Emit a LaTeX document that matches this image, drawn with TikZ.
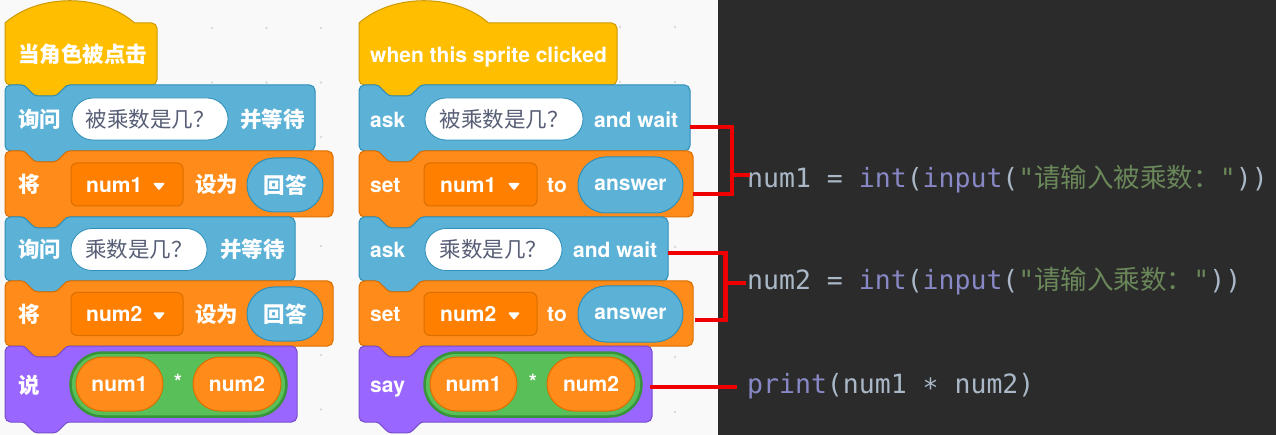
\documentclass[tikz,border=0pt]{standalone}
\usepackage{fontspec}
\newfontfamily\latf{TeX Gyre Heros}
\newfontfamily\cjkf{Noto Sans CJK SC}
\newfontfamily\monof{DejaVu Sans Mono}
\definecolor{bgl}{HTML}{F9F9F9}
\definecolor{bgd}{HTML}{2B2B2B}
\definecolor{hatc}{HTML}{FFBF00}
\definecolor{hatd}{HTML}{CC9900}
\definecolor{sens}{HTML}{5CB1D6}
\definecolor{sensd}{HTML}{2E8EB8}
\definecolor{varc}{HTML}{FF8C1A}
\definecolor{vard}{HTML}{DB6E00}
\definecolor{vars}{HTML}{FF8000}
\definecolor{looks}{HTML}{9966FF}
\definecolor{looksd}{HTML}{774DCB}
\definecolor{opc}{HTML}{59C059}
\definecolor{opd}{HTML}{389438}
\definecolor{inptxt}{HTML}{575E75}
\definecolor{cfg}{HTML}{A9B7C6}
\definecolor{cfn}{HTML}{8888C6}
\definecolor{cstr}{HTML}{6A8759}
\definecolor{redc}{HTML}{EE0000}
\definecolor{dotc}{HTML}{DADADA}
\newcommand\scrL{\latf\bfseries\fontsize{21}{24}\selectfont}
\newcommand\scrC{\cjkf\bfseries\fontsize{21.5}{24}\selectfont}
\newcommand\scrI{\cjkf\fontsize{21.5}{24}\selectfont}
\newcommand\codeM{\monof\fontsize{26.5}{30}\selectfont}
% stack block: x y w h fill draw
\newcommand\sblk[6]{%
\begin{scope}[shift={(#1,#2)}]
\filldraw[fill=#5,draw=#6,line width=1pt] (0,5.4) arc[start angle=180,end angle=270,radius=5.4]
 -- (16.2,0) .. controls (18.9,0) and (20.25,1.35) .. (21.6,2.7) -- (27,8.1)
 .. controls (28.35,9.45) and (29.7,10.8) .. (32.4,10.8) -- (48.6,10.8)
 .. controls (51.3,10.8) and (52.65,9.45) .. (54,8.1) -- (59.4,2.7)
 .. controls (60.75,1.35) and (62.1,0) .. (64.8,0)
 -- (#3-5.4,0) arc[start angle=270,end angle=360,radius=5.4]
 -- (#3,#4-5.4) arc[start angle=0,end angle=90,radius=5.4]
 -- (64.8,#4) .. controls (62.1,#4) and (60.75,#4+1.35) .. (59.4,#4+2.7) -- (54,#4+8.1)
 .. controls (52.65,#4+9.45) and (51.3,#4+10.8) .. (48.6,#4+10.8) -- (32.4,#4+10.8)
 .. controls (29.7,#4+10.8) and (28.35,#4+9.45) .. (27,#4+8.1) -- (21.6,#4+2.7)
 .. controls (20.25,#4+1.35) and (18.9,#4) .. (16.2,#4)
 -- (5.4,#4) arc[start angle=90,end angle=180,radius=5.4] -- cycle;
\end{scope}}
% hat block: x ytop w h fill draw
\newcommand\hblk[6]{%
\begin{scope}[shift={(#1,#2)}]
\filldraw[fill=#5,draw=#6,line width=1pt] (0,0) .. controls (33.75,-29.7) and (95.85,-29.7) .. (129.6,0)
 -- (#3-5.4,0) arc[start angle=270,end angle=360,radius=5.4]
 -- (#3,#4-5.4) arc[start angle=0,end angle=90,radius=5.4]
 -- (64.8,#4) .. controls (62.1,#4) and (60.75,#4+1.35) .. (59.4,#4+2.7) -- (54,#4+8.1)
 .. controls (52.65,#4+9.45) and (51.3,#4+10.8) .. (48.6,#4+10.8) -- (32.4,#4+10.8)
 .. controls (29.7,#4+10.8) and (28.35,#4+9.45) .. (27,#4+8.1) -- (21.6,#4+2.7)
 .. controls (20.25,#4+1.35) and (18.9,#4) .. (16.2,#4)
 -- (5.4,#4) arc[start angle=90,end angle=180,radius=5.4] -- cycle;
\end{scope}}
\newcommand\ddtri[2]{\fill[white,rounded corners=1pt] (#1-6,#2) -- (#1+6,#2) -- (#1,#2+7.5) -- cycle;}
\tikzset{
 lbl/.style={inner sep=0pt,anchor=base west,text=white},
 inpill/.style={draw=sensd,fill=white,line width=0.8pt,minimum height=42pt,rounded corners=21pt,inner sep=0pt,text=inptxt,font=\scrI},
 anspill/.style={draw=sensd,fill=sens,line width=1pt,minimum height=54pt,rounded corners=27pt,inner sep=0pt,text=white},
 varpill/.style={draw=vard,fill=varc,line width=1pt,minimum height=54pt,rounded corners=27pt,inner sep=0pt,text=white,font=\scrL},
 oppill/.style={draw=opd,fill=opc,line width=2.5pt,minimum height=64pt,rounded corners=32pt,inner sep=0pt},
 ddbox/.style={draw=vard,fill=vars,line width=1pt,minimum height=43pt,rounded corners=6pt,inner sep=0pt},
 codeln/.style={inner sep=0pt,anchor=base west,font=\codeM},
 redln/.style={draw=redc,line width=4.5pt,line join=miter,line cap=butt}
}
\begin{document}
\begin{tikzpicture}[x=1pt,y=-1pt]
\useasboundingbox (0,0) rectangle (1276,435);
\fill[bgl] (0,0) rectangle (718,435);
\fill[bgd] (718,0) rectangle (1276,435);
% grid dots
\foreach \gx in {212,266.5,321} \foreach \gy in {28,82.5,137,191.5,246,300.5,355,409.5} \fill[dotc] (\gx,\gy) circle[radius=1.3];
\foreach \gx in {620,675} \foreach \gy in {27,82,137,192,247,302,357,412} \fill[dotc] (\gx,\gy) circle[radius=1.3];

% ---------- left script ----------
\hblk{5}{23}{152}{62}{hatc}{hatd}
\sblk{5}{85}{310}{66}{sens}{sensd}
\sblk{5}{151}{328}{66}{varc}{vard}
\sblk{5}{217}{290}{64}{sens}{sensd}
\sblk{5}{281}{328}{65}{varc}{vard}
\sblk{5}{346}{292}{76}{looks}{looksd}

\node[lbl,font=\scrC] (lh) at (18,63) {当角色被点击};
\node[lbl,font=\scrC] (la1) at (18,128) {询问};
\node[inpill,minimum width=156pt] (li1) at (150,119) {被乘数是几？};
\node[lbl,font=\scrC] (la1b) at (240,128) {并等待};
\node[lbl,font=\scrC] (ls1) at (18,193) {将};
\node[ddbox,minimum width=112pt] (ld1) at (127,184.5) {};
\node[lbl,font=\scrL] (ld1t) at (86,192.5) {num1};
\ddtri{159}{183}
\node[lbl,font=\scrC] (ls1b) at (195,193) {设为};
\node[anspill,minimum width=76pt,font=\scrC] (lr1) at (285,185) {回答};
\node[lbl,font=\scrC] (la2) at (18,258) {询问};
\node[inpill,minimum width=136pt] (li2) at (139,249.5) {乘数是几？};
\node[lbl,font=\scrC] (la2b) at (220,258) {并等待};
\node[lbl,font=\scrC] (ls2) at (18,323) {将};
\node[ddbox,minimum width=112pt] (ld2) at (127,314) {};
\node[lbl,font=\scrL] (ld2t) at (86,322) {num2};
\ddtri{159}{312.5}
\node[lbl,font=\scrC] (ls2b) at (195,323) {设为};
\node[anspill,minimum width=76pt,font=\scrC] (lr2) at (285,314) {回答};
\node[lbl,font=\scrC] (lsay) at (18,393) {说};
\node[oppill,minimum width=216pt] (lop) at (178.5,384.5) {};
\node[varpill,minimum width=87pt] (lv1) at (119.5,384) {num1};
\node[varpill,minimum width=88pt] (lv2) at (237,384) {num2};
\node[inner sep=0pt,text=white,font=\scrL] (lst) at (178,382) {*};

% ---------- middle script ----------
\hblk{359}{23}{258}{62}{hatc}{hatd}
\sblk{359}{85}{331}{66}{sens}{sensd}
\sblk{359}{151}{334}{66}{varc}{vard}
\sblk{359}{217}{309}{64}{sens}{sensd}
\sblk{359}{281}{334}{65}{varc}{vard}
\sblk{359}{346}{293}{76}{looks}{looksd}

\node[lbl,font=\scrL] (mh) at (370,62.5) {when this sprite clicked};
\node[lbl,font=\scrL] (ma1) at (370,127.5) {ask};
\node[inpill,minimum width=158pt] (mi1) at (504,119) {被乘数是几？};
\node[lbl,font=\scrL] (ma1b) at (594,127.5) {and wait};
\node[lbl,font=\scrL] (ms1) at (370,192.5) {set};
\node[ddbox,minimum width=113pt] (md1) at (480.5,184.5) {};
\node[lbl,font=\scrL] (md1t) at (440,192.5) {num1};
\ddtri{514}{183}
\node[lbl,font=\scrL] (ms1b) at (547,192.5) {to};
\node[anspill,minimum width=105pt,minimum height=56pt,rounded corners=28pt,font=\scrL] (mr1) at (630.5,185) {answer};
\node[lbl,font=\scrL] (ma2) at (370,257.5) {ask};
\node[inpill,minimum width=137pt] (mi2) at (493.5,249.5) {乘数是几？};
\node[lbl,font=\scrL] (ma2b) at (573,257.5) {and wait};
\node[lbl,font=\scrL] (ms2) at (370,322) {set};
\node[ddbox,minimum width=113pt] (md2) at (480.5,314) {};
\node[lbl,font=\scrL] (md2t) at (440,322) {num2};
\ddtri{514}{312.5}
\node[lbl,font=\scrL] (ms2b) at (547,322) {to};
\node[anspill,minimum width=105pt,minimum height=56pt,rounded corners=28pt,font=\scrL] (mr2) at (630.5,314) {answer};
\node[lbl,font=\scrL] (msay) at (370,392) {say};
\node[oppill,minimum width=217pt] (mop) at (533,384.5) {};
\node[varpill,minimum width=87pt] (mv1) at (473.5,384) {num1};
\node[varpill,minimum width=88pt] (mv2) at (591,384) {num2};
\node[inner sep=0pt,text=white,font=\scrL] (mst) at (533,382) {*};

% ---------- code ----------
\node[codeln] (c1) at (747,188) {\color{cfg}num1 = \color{cfn}int\color{cfg}(\color{cfn}input\color{cfg}(\color{cstr}"{\cjkf 请输入被乘数：}"\color{cfg}))};
\node[codeln] (c2) at (747,290) {\color{cfg}num2 = \color{cfn}int\color{cfg}(\color{cfn}input\color{cfg}(\color{cstr}"{\cjkf 请输入乘数：}"\color{cfg}))};
\node[codeln] (c3) at (747,393) {\color{cfn}print\color{cfg}(num1 \raisebox{-0.18em}{*} num2)};

% ---------- connectors ----------
\coordinate (a1e) at (690,127);
\coordinate (s1e) at (693,194);
\coordinate (k1) at (732,175);
\coordinate (c1in) at (750,175);
\coordinate (a2e) at (668,253);
\coordinate (s2e) at (695,320);
\coordinate (k2) at (725.5,283);
\coordinate (c2in) at (746,283);
\coordinate (y1e) at (650,387);
\coordinate (c3in) at (737,387);
\draw[redln] (a1e) -| (k1) |- (s1e);
\draw[redln] (k1) -- (c1in);
\draw[redln] (a2e) -| (k2) |- (s2e);
\draw[redln] (k2) -- (c2in);
\draw[redln] (y1e) -- (c3in);
\end{tikzpicture}
\end{document}
